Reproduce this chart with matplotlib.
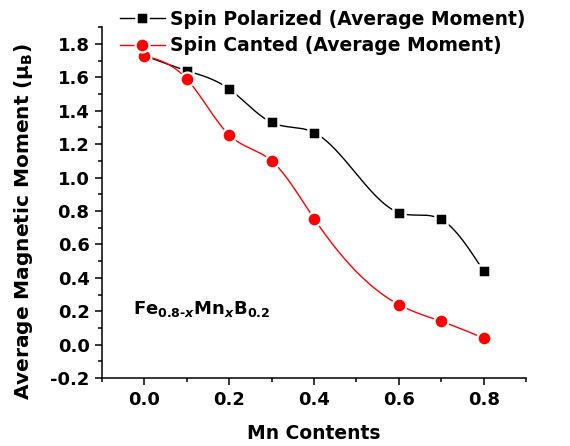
import numpy as np
import matplotlib
matplotlib.use("Agg")
import matplotlib.pyplot as plt
from matplotlib.lines import Line2D

plt.rcParams['font.family'] = ['DejaVu Sans']
plt.rcParams['font.weight'] = 'bold'
plt.rcParams['mathtext.fontset'] = 'custom'
plt.rcParams['mathtext.rm'] = 'DejaVu Sans:bold'
plt.rcParams['mathtext.bf'] = 'DejaVu Sans:bold'
plt.rcParams['mathtext.it'] = 'DejaVu Sans:bold:italic'

mn_content = [0.0, 0.1, 0.2, 0.3, 0.4, 0.6, 0.7, 0.8]
spin_polarized = [1.73, 1.64, 1.53, 1.33, 1.27, 0.79, 0.75, 0.44]
spin_canted = [1.73, 1.59, 1.255, 1.10, 0.755, 0.24, 0.14, 0.04]
series_labels = ['Spin Polarized (Average Moment)', 'Spin Canted (Average Moment)']
x_ticks = [0.0, 0.2, 0.4, 0.6, 0.8]
y_ticks = [-0.2, 0.0, 0.2, 0.4, 0.6, 0.8, 1.0, 1.2, 1.4, 1.6, 1.8]


def natural_spline(x, y, n=300):
    x = np.asarray(x, float)
    y = np.asarray(y, float)
    k = len(x)
    h = np.diff(x)
    A = np.zeros((k, k))
    b = np.zeros(k)
    A[0, 0] = A[-1, -1] = 1.0
    for i in range(1, k - 1):
        A[i, i - 1] = h[i - 1]
        A[i, i] = 2 * (h[i - 1] + h[i])
        A[i, i + 1] = h[i]
        b[i] = 6 * ((y[i + 1] - y[i]) / h[i] - (y[i] - y[i - 1]) / h[i - 1])
    m = np.linalg.solve(A, b)
    xs = np.linspace(x[0], x[-1], n)
    idx = np.clip(np.searchsorted(x, xs) - 1, 0, k - 2)
    x0, x1 = x[idx], x[idx + 1]
    hh = x1 - x0
    t0, t1 = x1 - xs, xs - x0
    ys = (m[idx] * t0 ** 3 / (6 * hh) + m[idx + 1] * t1 ** 3 / (6 * hh)
          + (y[idx] / hh - m[idx] * hh / 6) * t0
          + (y[idx + 1] / hh - m[idx + 1] * hh / 6) * t1)
    return xs, ys


fig = plt.figure(figsize=(5.7, 4.46), dpi=100)
ax = fig.add_axes([0.179, 0.152, 0.744, 0.787])

sx, sy = natural_spline(mn_content, spin_polarized)
ax.plot(sx, sy, color='black', lw=1.0, zorder=2)
ax.plot(mn_content, spin_polarized, ls='none', marker='s', ms=8.5, mfc='black',
        mec='white', mew=1.8, zorder=3)

cx, cy = natural_spline(mn_content, spin_canted)
ax.plot(cx, cy, color='red', lw=1.0, zorder=4)
ax.plot(mn_content, spin_canted, ls='none', marker='o', ms=10, mfc='red',
        mec='white', mew=1.6, zorder=5)

ax.set_xlim(-0.1, 0.9)
ax.set_ylim(-0.2, 1.9)
ax.set_xticks(x_ticks)
ax.set_xticklabels([f'{v:.1f}' for v in x_ticks])
ax.set_xticks(np.arange(-0.1, 0.91, 0.1), minor=True)
ax.set_yticks(y_ticks)
ax.set_yticklabels([f'{v:.1f}' for v in y_ticks])
ax.set_yticks(np.arange(-0.2, 1.91, 0.1), minor=True)

for side in ('top', 'right'):
    ax.spines[side].set_visible(False)
for side in ('left', 'bottom'):
    ax.spines[side].set_linewidth(1.1)
ax.tick_params(which='major', direction='out', length=5, width=1.1,
               labelsize=13, pad=4)
ax.tick_params(which='minor', direction='out', length=3, width=1.1)
for lab in ax.get_xticklabels() + ax.get_yticklabels():
    lab.set_fontweight('bold')

ax.set_xlabel('Mn Contents', fontsize=13.5, fontweight='bold', labelpad=11)
ax.set_ylabel('Average Magnetic Moment (μ$_\\mathregular{B}$)', fontsize=14.5,
              fontweight='bold')
ax.yaxis.set_label_coords(-0.158, 0.447)

ax.text(-0.027, 0.183,
        'Fe$_{\\mathregular{0.8\u2010}\\mathit{x}}$Mn$_{\\mathit{x}}$B$_{\\mathregular{0.2}}$',
        fontsize=13, fontweight='bold', ha='left', va='baseline')

handles = [
    Line2D([], [], color='black', lw=1.0, marker='s', ms=8.5, mfc='black',
           mec='white', mew=1.8),
    Line2D([], [], color='red', lw=1.0, marker='o', ms=10, mfc='red',
           mec='white', mew=1.6),
]
fig.legend(handles, series_labels, loc='upper left',
           bbox_to_anchor=(0.197, 0.995), frameon=False,
           prop={'weight': 'bold', 'size': 13.5}, handlelength=2.4,
           handletextpad=0.3, labelspacing=0.4, borderaxespad=0.0)

fig.savefig('out.png', dpi=100)
